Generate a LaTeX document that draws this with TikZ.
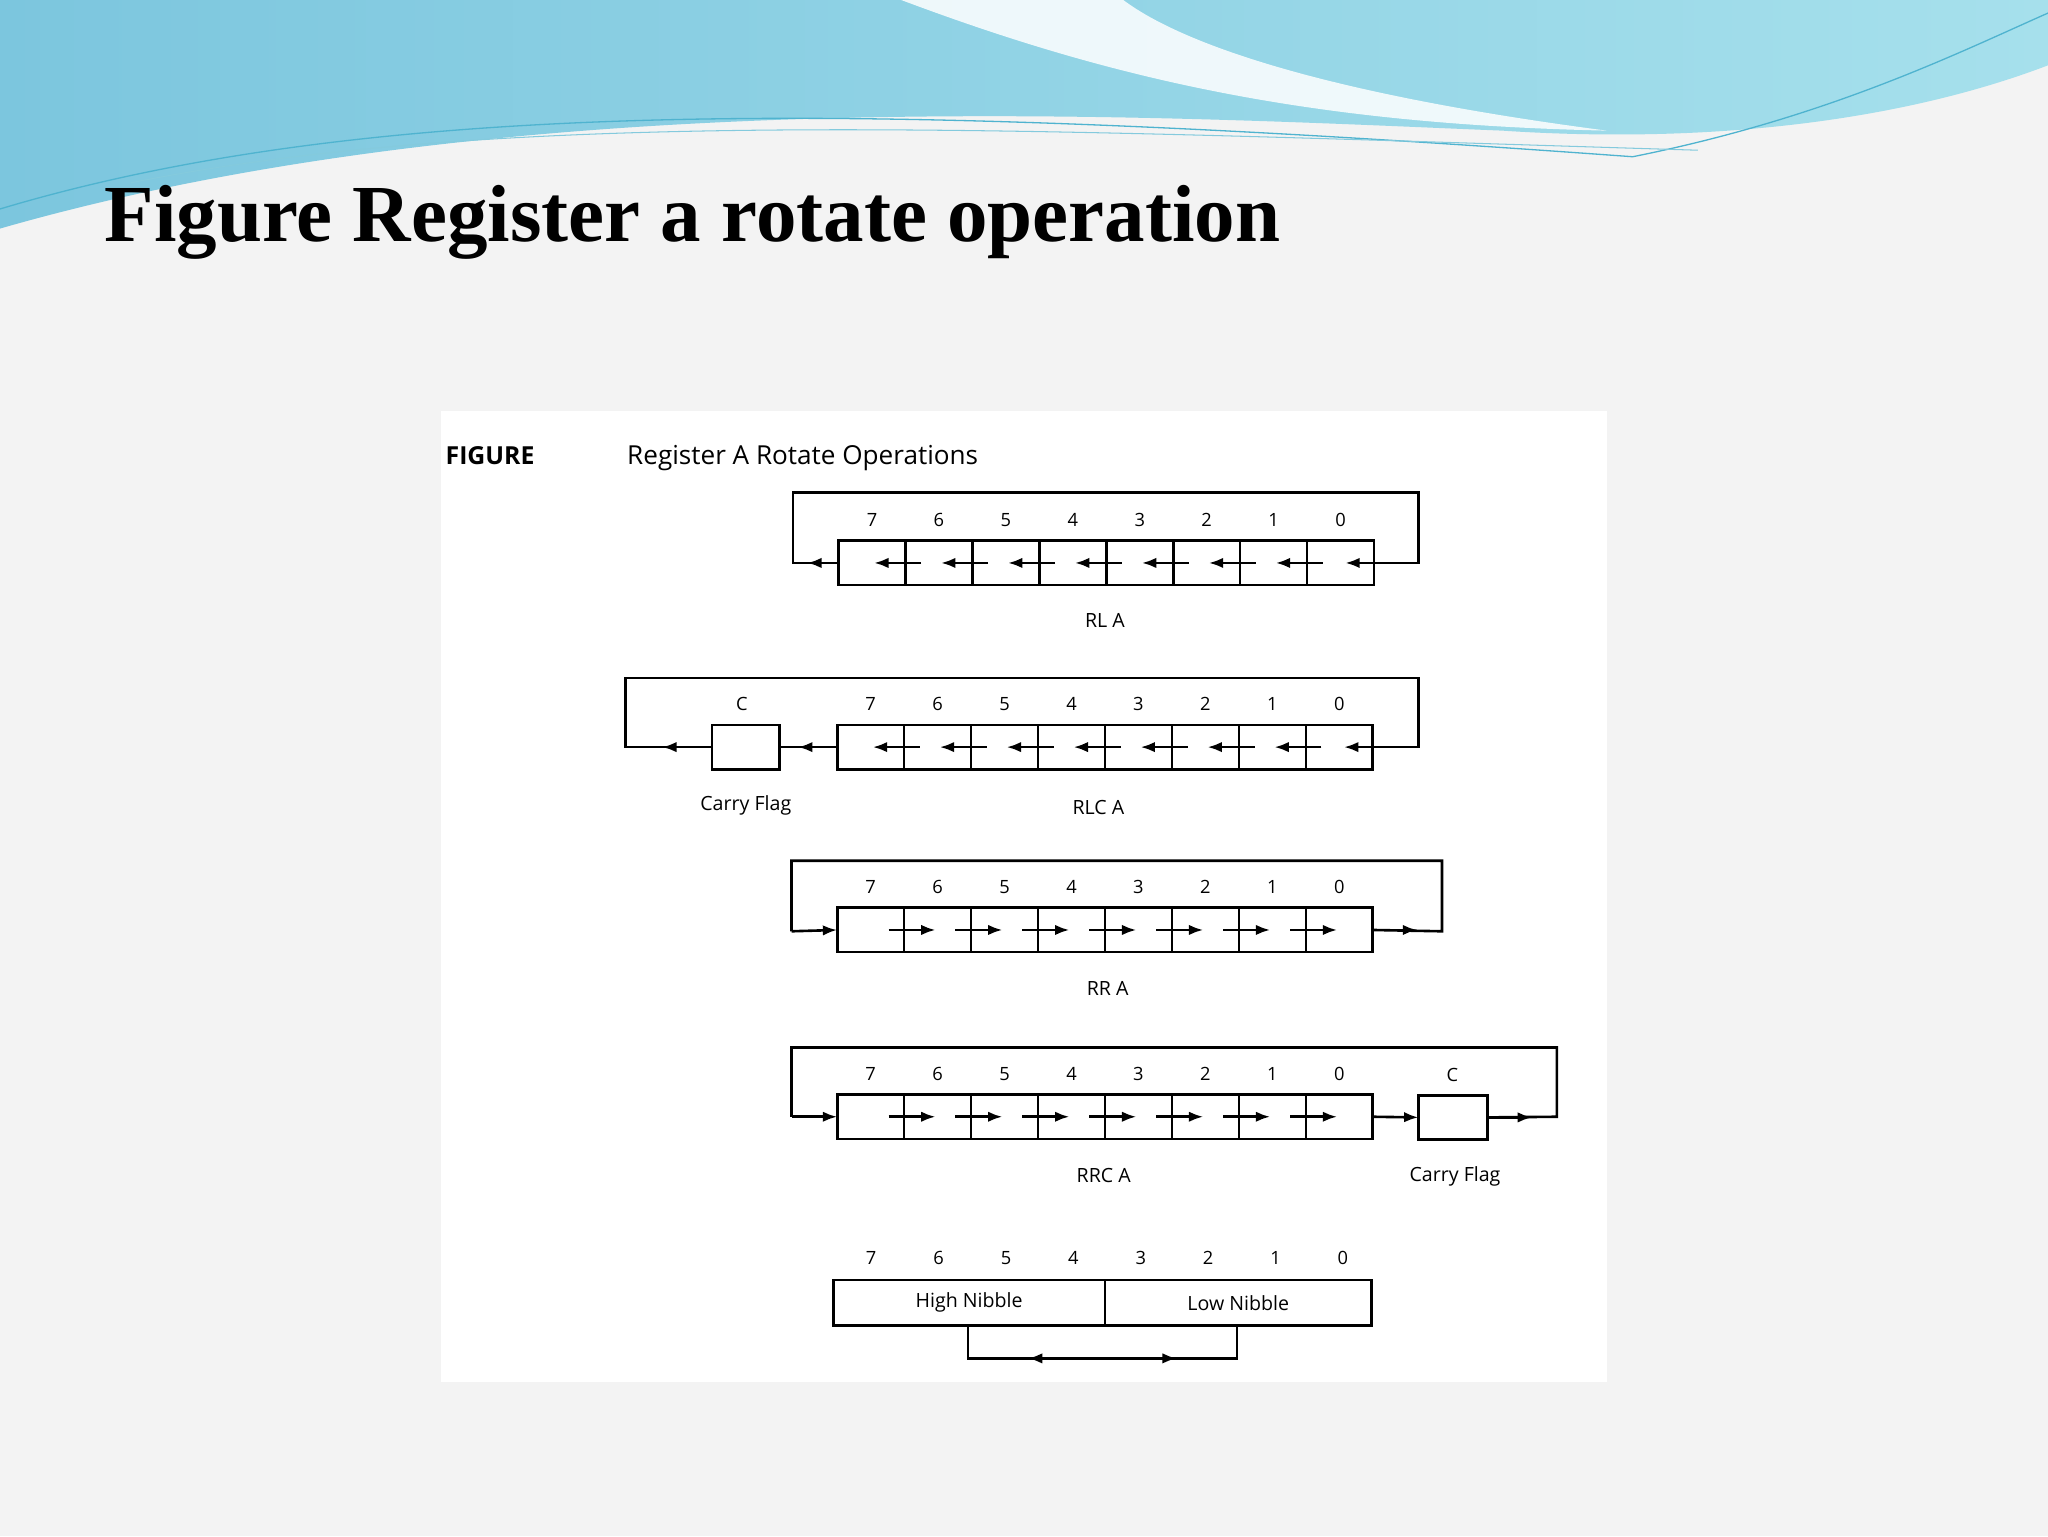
\documentclass[tikz,border=0pt]{standalone}
\usepackage{fontspec}
\setmainfont{Liberation Serif}
\newfontfamily\diag{Open Sans}
\usetikzlibrary{arrows.meta}
\definecolor{bgc}{HTML}{F3F3F3}
\definecolor{wa}{HTML}{7CC6DE}
\definecolor{wb}{HTML}{A6E0EC}
\definecolor{wl}{HTML}{4FB3CF}
\tikzset{
 cell/.style={draw,line width=2pt,minimum width=51.25pt,minimum height=34pt,inner sep=0pt,outer sep=0pt},
 ln/.style={line width=2pt},
 arr/.style={line width=2pt,-{Latex[length=11pt,width=8pt]}},
 dig/.style={font=\diag\fontsize{14}{14}\selectfont},
 lab/.style={font=\diag\fontsize{15}{15}\selectfont}
}
\begin{document}
\begin{tikzpicture}[x=1pt,y=-1pt]
\useasboundingbox (0,0) rectangle (1568,1176);
\fill[bgc] (0,0) rectangle (1568,1176);
\shade[left color=wa,right color=wb] (0,0)--(1568,0)--(1568,50) .. controls (1450,95) and (1300,110) .. (1150,100) .. controls (900,90) and (400,60) .. (0,175) -- cycle;
\fill[white,opacity=0.85] (690,0) .. controls (850,60) and (1000,95) .. (1230,100) .. controls (1000,70) and (900,30) .. (860,0) -- cycle;
\draw[wl,line width=1pt] (0,160) .. controls (300,70) and (700,80) .. (1250,120) .. controls (1400,90) and (1500,40) .. (1568,10);
\draw[wl!70,line width=0.8pt] (100,140) .. controls (400,80) and (800,100) .. (1300,115);
\node[anchor=base west,font=\bfseries\fontsize{62}{62}\selectfont,inner sep=0pt] (title) at (80,185) {Figure Register a rotate operation};
\fill[white] (338,315) rectangle (1230,1058);
\node[anchor=base west,font=\diag\bfseries\fontsize{19}{19}\selectfont,inner sep=0pt] (fig) at (341,356) {FIGURE};
\node[anchor=base west,font=\diag\fontsize{20}{20}\selectfont,inner sep=0pt] (cap) at (480,356) {Register A Rotate Operations};
\foreach \r/\L/\yt in {a/642/414, b/641/555, c/641/695, d/641/838}{
  \foreach \i in {0,...,7}{
    \pgfmathtruncatemacro{\bit}{7-\i}
    \node[cell] (\r\i) at ({\L+25.625+51.25*\i},{\yt+17}) {};
    \node[dig] (\r d\i) at ({\L+25.625+51.25*\i},{\yt-16}) {\bit};
  }
}
\foreach \r in {a,b}{
  \foreach \i in {1,...,7}{
    \draw[arr] ([xshift=12pt]\r\i.west) -- ([xshift=-24pt]\r\i.west);
  }
}
\foreach \r in {c,d}{
  \foreach \i in {0,...,6}{
    \draw[arr] ([xshift=-12pt]\r\i.east) -- ([xshift=24pt]\r\i.east);
  }
}
% RL A
\coordinate (a1r) at (1086,431);\coordinate (a2r) at (1086,377);\coordinate (a3) at (607,377);\coordinate (a4) at (607,431);
\draw[ln] (a7.east) -- (a1r) -- (a2r) -- (a3) -- (a4) -- (a0.west);
\draw[arr] (a1r) -- ([xshift=-22pt]a7.east);
\draw[arr] (a0.west) -- ([xshift=-24pt]a0.west);
\node[lab] (rla) at (846,475) {RL A};
% RLC A
\node[cell,minimum width=52pt] (cb) at (571,572) {};
\node[dig] (cbl) at (568,539) {C};
\coordinate (b1r) at (1086,572);\coordinate (b2r) at (1086,519);\coordinate (b3) at (479,519);\coordinate (b4) at (479,572);
\draw[ln] (b7.east) -- (b1r) -- (b2r) -- (b3) -- (b4) -- (cb.west);
\draw[ln] (b0.west) -- (cb.east);
\draw[arr] (b1r) -- ([xshift=-22pt]b7.east);
\draw[arr] (b0.west) -- ([xshift=-30pt]b0.west);
\draw[arr] (cb.west) -- ([xshift=-38pt]cb.west);
\node[lab] (cf1) at (571,617) {Carry Flag};
\node[lab] (rlca) at (841,618) {RLC A};
% RR A
\coordinate (c1) at (606,713);\coordinate (c2) at (606,659);\coordinate (c3) at (1104,659);\coordinate (c4) at (1104,713);
\draw[arr] (c1) -- (c0.west);
\draw[ln] (c7.east) -- (c4) -- (c3) -- (c2) -- (c1);
\draw[arr] (c7.east) -- ([xshift=34pt]c7.east);
\node[lab] (rra) at (848,757) {RR A};
% RRC A
\node[cell,minimum width=53pt] (cd) at (1112.5,855.5) {};
\node[dig] (cdl) at (1112,823) {C};
\coordinate (d1) at (606,855);\coordinate (d2) at (606,802);\coordinate (d3) at (1192,802);\coordinate (d4) at (1192,855);
\draw[arr] (d1) -- (d0.west);
\draw[ln] (d1) -- (d2) -- (d3) -- (d4) -- (cd.east);
\draw[arr] (d7.east) -- (cd.west);
\draw[arr] (cd.east) -- ([xshift=34pt]cd.east);
\node[lab] (rrca) at (845,900) {RRC A};
\node[lab] (cf2) at (1114,901) {Carry Flag};
% Nibbles
\node[cell,minimum width=208pt,minimum height=35pt] (hn) at (742,997.5) {};
\node[cell,minimum width=204pt,minimum height=35pt] (lnb) at (948,997.5) {};
\node[lab] at (hn) {High Nibble};
\node[lab] at (lnb) {Low Nibble};
\foreach \i in {0,...,7}{
  \pgfmathtruncatemacro{\bit}{7-\i}
  \node[dig] (e\i) at ({667+51.6*\i},963) {\bit};
}
\coordinate (n1) at (741,1040);\coordinate (n2) at (947,1040);
\draw[ln] (hn.south -| n1) -- (n1) -- (n2) -- (lnb.south -| n2);
\draw[arr] (n1) ++(60,0) -- ++(-14,0);
\draw[arr] (n2) ++(-60,0) -- ++(14,0);
\end{tikzpicture}
\end{document}
